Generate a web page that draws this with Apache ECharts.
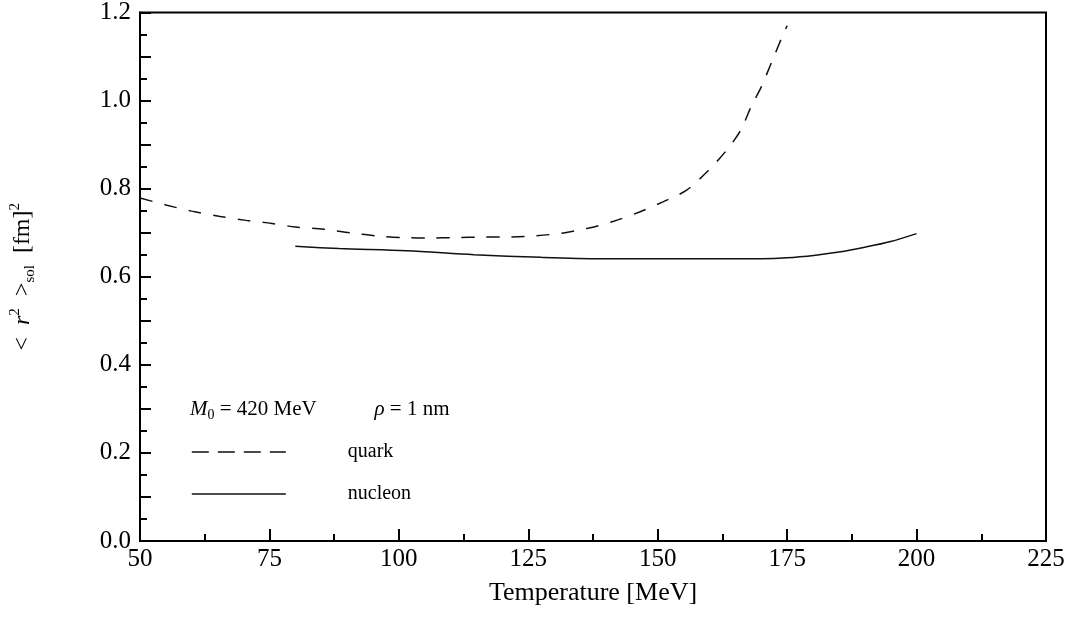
<!DOCTYPE html>
<html>
<head>
<meta charset="utf-8">
<script src="https://cdn.jsdelivr.net/npm/echarts@6/dist/echarts.min.js"></script>
<style>html,body{margin:0;padding:0;background:#fff}#c{width:1073px;height:622px}</style>
</head>
<body>
<div id="c"></div>
<script>
const quarkT = [50, 55, 60, 65.5, 70.5, 75.5, 80, 85.5, 90.5, 96.5, 101, 106, 111, 116, 121.5, 126.5, 131.5, 136.5, 141.5, 146.5, 151, 155.5, 159.5, 163, 166, 168, 170, 172, 174, 175];
const quarkV = [0.779, 0.763, 0.749, 0.737, 0.728, 0.721, 0.713, 0.708, 0.700, 0.692, 0.689, 0.688, 0.689, 0.690, 0.690, 0.693, 0.699, 0.710, 0.726, 0.747, 0.770, 0.796, 0.838, 0.883, 0.932, 0.985, 1.031, 1.087, 1.144, 1.170];
const nucleonT = [80, 88.5, 101.5, 114.5, 127.5, 139, 150, 160, 170, 175, 180.5, 185, 190, 195, 200];
const nucleonV = [0.669, 0.664, 0.659, 0.650, 0.644, 0.641, 0.641, 0.641, 0.641, 0.643, 0.649, 0.656, 0.667, 0.680, 0.698];
const xTicks = {min: 50, max: 225, step: 25};
const yTicks = {min: 0, max: 1.2, step: 0.1};

const font = 'Liberation Serif, DejaVu Serif, serif';
const chart = echarts.init(document.getElementById('c'));
chart.setOption({
  animation: false,
  backgroundColor: '#fff',
  grid: {left: 140, right: 27, top: 12, bottom: 81, show: true, borderColor: '#000', borderWidth: 2},
  title: {
    left: 190, top: 396, padding: 0,
    text: '{i|M}{sub|0} = 420 MeV           {i|ρ} = 1 nm',
    textStyle: {
      fontFamily: font, fontSize: 21, color: '#000', fontWeight: 'normal', lineHeight: 26,
      rich: {
        i: {fontFamily: font, fontSize: 21, fontStyle: 'italic', color: '#000', lineHeight: 26},
        sub: {fontFamily: font, fontSize: 14, color: '#000', verticalAlign: 'bottom', lineHeight: 22}
      }
    }
  },
  legend: {
    orient: 'vertical', left: 191, top: 442, padding: 0,
    itemWidth: 94, itemHeight: 22, itemGap: 22,
    formatter: '{t|{name}}',
    itemStyle: {opacity: 0, color: 'rgba(0,0,0,0)', borderWidth: 0},
    textStyle: {
      fontFamily: font, fontSize: 20, color: '#000',
      rich: {t: {fontFamily: font, fontSize: 20, color: '#000', padding: [0, 0, 0, 57]}}
    },
    data: [
      {name: 'quark', lineStyle: {type: [17, 9], width: 1.6, color: '#111'}, itemStyle: {opacity: 0, color: 'rgba(0,0,0,0)', borderWidth: 0}},
      {name: 'nucleon', lineStyle: {width: 1.6, color: '#111'}, itemStyle: {opacity: 0, color: 'rgba(0,0,0,0)', borderWidth: 0}}
    ]
  },
  xAxis: {
    type: 'value', min: xTicks.min, max: xTicks.max, interval: xTicks.step,
    name: 'Temperature [MeV]', nameLocation: 'middle', nameGap: 39,
    nameTextStyle: {fontFamily: font, fontSize: 26, color: '#000'},
    axisLine: {lineStyle: {color: '#000', width: 2}},
    axisTick: {inside: true, length: 12, lineStyle: {color: '#000', width: 2}},
    minorTick: {show: true, splitNumber: 2, length: 7, lineStyle: {color: '#000', width: 2}},
    axisLabel: {fontFamily: font, fontSize: 25, color: '#000', margin: 6},
    splitLine: {show: false}
  },
  yAxis: {
    type: 'value', min: yTicks.min, max: yTicks.max, interval: yTicks.step,
    name: '<  {i|r}{sup|2}  >{sub|sol}  [fm]{sup|2}', nameLocation: 'middle', nameGap: 102, nameRotate: 90,
    nameTextStyle: {
      fontFamily: font, fontSize: 24, color: '#000', lineHeight: 30,
      rich: {
        i: {fontFamily: font, fontSize: 24, fontStyle: 'italic', color: '#000', lineHeight: 30},
        sup: {fontFamily: font, fontSize: 15, color: '#000', verticalAlign: 'top', lineHeight: 30},
        sub: {fontFamily: font, fontSize: 15, color: '#000', verticalAlign: 'bottom', lineHeight: 30}
      }
    },
    axisLine: {lineStyle: {color: '#000', width: 2}},
    axisTick: {inside: true, length: 11, lineStyle: {color: '#000', width: 2}},
    minorTick: {show: true, splitNumber: 2, length: 7, lineStyle: {color: '#000', width: 2}},
    axisLabel: {
      fontFamily: font, fontSize: 25, color: '#000', margin: 9,
      formatter: v => (Math.round(v * 10) % 2 === 0 ? v.toFixed(1) : '')
    },
    splitLine: {show: false}
  },
  series: [
    {
      name: 'quark', type: 'line', symbol: 'none', smooth: 0.3,
      data: quarkT.map((t, i) => [t, quarkV[i]]),
      lineStyle: {color: '#111', width: 1.5, type: [13, 12]},
      itemStyle: {color: '#111'}
    },
    {
      name: 'nucleon', type: 'line', symbol: 'none', smooth: 0.3,
      data: nucleonT.map((t, i) => [t, nucleonV[i]]),
      lineStyle: {color: '#111', width: 1.5, type: 'solid'},
      itemStyle: {color: '#111'}
    }
  ]
});
</script>
</body>
</html>
